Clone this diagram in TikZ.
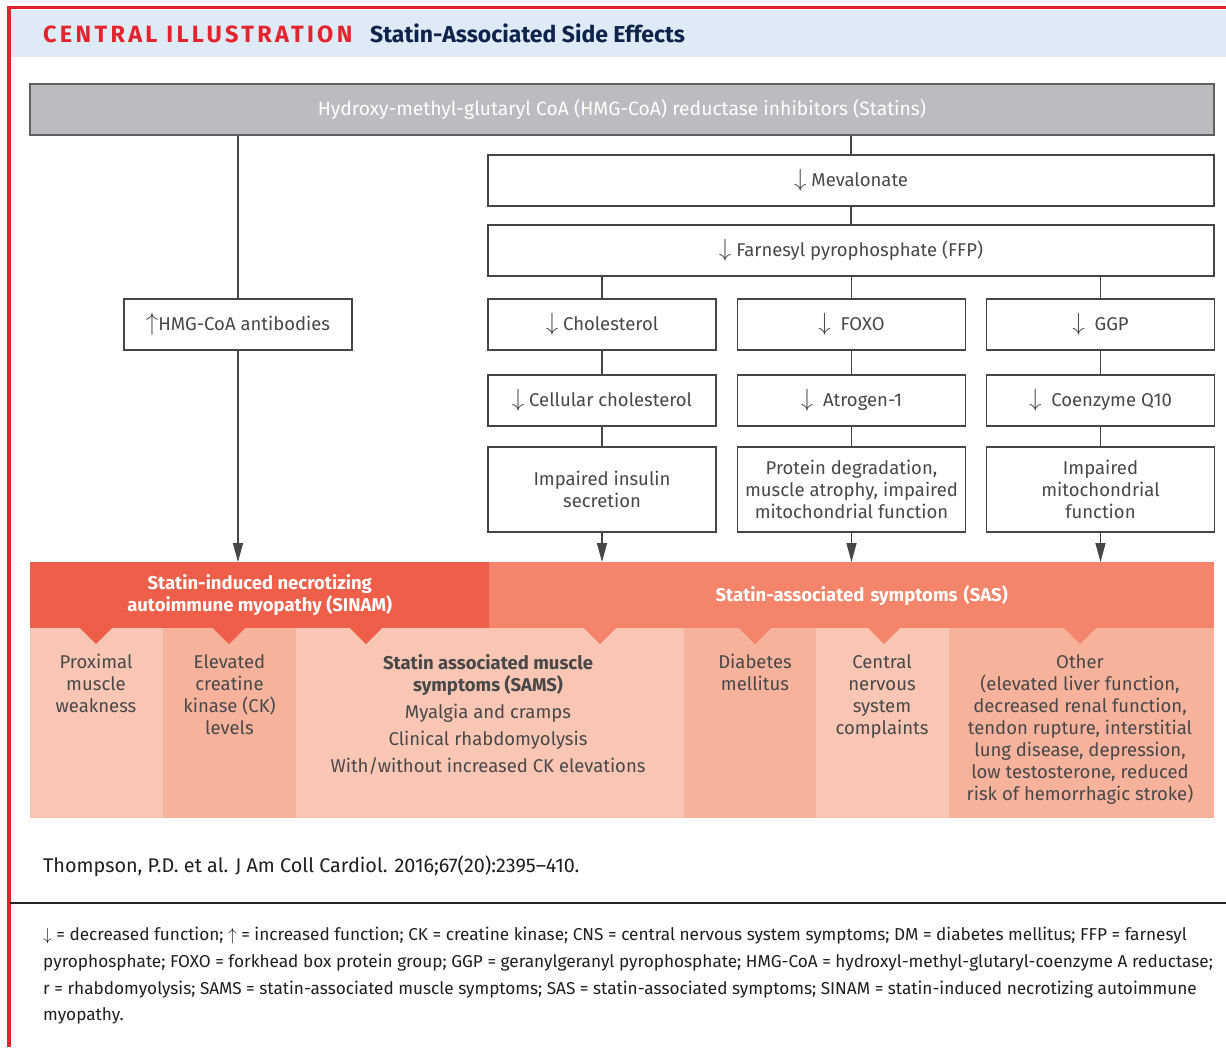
\documentclass[tikz,border=0pt]{standalone}
\usepackage{fontspec}
\setmainfont{Fira Sans}
\usetikzlibrary{arrows.meta}
\definecolor{borderred}{RGB}{227,35,45}
\definecolor{headbg}{RGB}{222,234,246}
\definecolor{navy}{RGB}{12,35,75}
\definecolor{grayfill}{RGB}{187,188,192}
\definecolor{grayline}{RGB}{95,95,95}
\definecolor{boxline}{RGB}{70,70,70}
\definecolor{txtgray}{RGB}{72,72,72}
\definecolor{sinamred}{RGB}{239,94,72}
\definecolor{sasred}{RGB}{244,132,106}
\definecolor{collight}{RGB}{250,198,180}
\definecolor{colmed}{RGB}{247,178,156}
\newcommand{\dnarr}{{\fontsize{25}{22}\selectfont$\downarrow$}}
\newcommand{\uparr}{{\fontsize{25}{22}\selectfont$\uparrow$}}
\tikzset{
  fbox/.style={draw=boxline, line width=1.4pt, fill=white, minimum width=228pt, minimum height=51pt,
    inner sep=0pt, font=\fontsize{18.5}{22}\selectfont, text=txtgray, align=center},
  graybox/.style={draw=grayline, line width=2.4pt, fill=grayfill, minimum width=1184pt, minimum height=51pt,
    inner sep=0pt, font=\fontsize{19.3}{22}\selectfont, text=white},
  link/.style={draw=boxline, line width=1.4pt},
  arr/.style={draw=boxline, line width=1.4pt, -{Triangle[width=10pt,length=19pt]}},
  bar/.style={minimum height=66pt, anchor=north west, inner sep=0pt, text=white,
    font=\fontsize{18.5}{22}\selectfont\bfseries, align=center},
  coltxt/.style={anchor=north, inner sep=0pt, text=txtgray, align=center, font=\fontsize{18.5}{22}\selectfont}
}
\begin{document}
\begin{tikzpicture}[x=1pt,y=-1pt]
\useasboundingbox (0,0) rectangle (1226,1047);
\fill[white] (0,0) rectangle (1226,1047);
% header
\fill[headbg] (10,10) rectangle (1226,57);
\draw[borderred, line width=3.6pt] (9,1047) -- (9,7.5) -- (1226,7.5);
\node[anchor=base west, inner sep=0pt, text=borderred, font=\fontsize{23.5}{24}\selectfont\bfseries\addfontfeatures{LetterSpace=14}] (title1) at (43,42) {CENTRAL ILLUSTRATION};
\node[anchor=base west, inner sep=0pt, text=navy, font=\fontsize{23}{24}\selectfont\bfseries] (title2) at (370,42) {Statin-Associated Side Effects};

% flow boxes
\node[graybox] (statins) at (622,109.5) {Hydroxy-methyl-glutaryl CoA (HMG-CoA) reductase inhibitors (Statins)};
\node[fbox, minimum width=726pt] (meva) at (851,180.5) {\dnarr\ Mevalonate};
\node[fbox, minimum width=726pt] (ffp) at (851,250.5) {\dnarr\ Farnesyl pyrophosphate (FFP)};
\node[fbox] (antib) at (238,324.5) {\uparr HMG-CoA antibodies};
\node[fbox] (chol) at (602,324.5) {\dnarr\ Cholesterol};
\node[fbox] (foxo) at (851.5,324.5) {\dnarr\ \ FOXO};
\node[fbox] (ggp) at (1100.5,324.5) {\dnarr\ \ GGP};
\node[fbox] (cell) at (602,400.5) {\dnarr\ Cellular cholesterol};
\node[fbox] (atro) at (851.5,400.5) {\dnarr\ \ Atrogen-1};
\node[fbox] (coq) at (1100.5,400.5) {\dnarr\ \ Coenzyme Q10};
\node[fbox, minimum height=85pt] (ins) at (602,489.5) {Impaired insulin\\secretion};
\node[fbox, minimum height=85pt] (prot) at (851.5,489.5) {Protein degradation,\\muscle atrophy, impaired\\mitochondrial function};
\node[fbox, minimum height=85pt] (mito) at (1100.5,489.5) {Impaired\\mitochondrial\\function};

% bars
\node[bar, fill=sinamred, minimum width=459pt] (sinam) at (30,562) {Statin-induced necrotizing\\autoimmune myopathy (SINAM)};
\node[bar, fill=sasred, minimum width=725pt, text width=705pt] (sas) at (489,562) {\hspace*{20pt}\raisebox{-4pt}{Statin-associated symptoms (SAS)}};

% connectors
\draw[link] (antib.north |- statins.south) -- (antib.north);
\draw[arr] (antib.south) -- (antib.south |- sinam.north);
\draw[link] (meva.north |- statins.south) -- (meva.north);
\draw[link] (meva.south) -- (ffp.north);
\draw[link] (chol.north |- ffp.south) -- (chol.north);
\draw[link] (foxo.north |- ffp.south) -- (foxo.north);
\draw[link] (ggp.north |- ffp.south) -- (ggp.north);
\draw[link] (chol.south) -- (cell.north);
\draw[link] (foxo.south) -- (atro.north);
\draw[link] (ggp.south) -- (coq.north);
\draw[link] (cell.south) -- (ins.north);
\draw[link] (atro.south) -- (prot.north);
\draw[link] (coq.south) -- (mito.north);
\draw[arr] (ins.south) -- (ins.south |- sas.north);
\draw[arr] (prot.south) -- (prot.south |- sas.north);
\draw[arr] (mito.south) -- (mito.south |- sas.north);

% columns
\fill[collight] (30,628) rectangle (163,818);
\fill[colmed] (163,628) rectangle (296,818);
\fill[collight] (296,628) rectangle (684,818);
\fill[colmed] (684,628) rectangle (816,818);
\fill[collight] (816,628) rectangle (949,818);
\fill[colmed] (949,628) rectangle (1214,818);
\foreach \x/\c in {96/sinamred,229/sinamred,366/sinamred,600/sasred,755/sasred,884/sasred,1080/sasred}
  \fill[\c] (\x-17,627) -- (\x+17,627) -- (\x,644) -- cycle;

\node[coltxt] (c1) at (96,654) {Proximal\\muscle\\weakness};
\node[coltxt] (c2) at (229.5,654) {Elevated\\creatine\\kinase (CK)\\levels};
\node[coltxt] (c3) at (488,654) {\bfseries Statin associated muscle\\\bfseries symptoms (SAMS)\\[5pt]Myalgia and cramps\\[5pt]Clinical rhabdomyolysis\\[5pt]With/without increased CK elevations};
\node[coltxt] (c4) at (755,654) {Diabetes\\mellitus};
\node[coltxt] (c5) at (882,654) {Central\\nervous\\system\\complaints};
\node[coltxt] (c6) at (1080,654) {Other\\(elevated liver function,\\decreased renal function,\\tendon rupture, interstitial\\lung disease, depression,\\low testosterone, reduced\\risk of hemorrhagic stroke)};

% citation and footnote
\node[anchor=base west, inner sep=0pt, text=black!88, font=\fontsize{19.8}{22}\selectfont] (cite) at (43,872) {Thompson, P.D. et al. J Am Coll Cardiol. 2016;67(20):2395--410.};
\coordinate (rulel) at (10,903);
\coordinate (ruler) at (1226,903);
\draw[black!85, line width=1.6pt] (rulel) -- (ruler);
\node[anchor=north west, inner sep=0pt, text=black!88, align=left, font=\fontsize{17.2}{26.7}\selectfont] (foot) at (43,927) {%
$\downarrow$ = decreased function; $\uparrow$ = increased function; CK = creatine kinase; CNS = central nervous system symptoms; DM = diabetes mellitus; FFP = farnesyl\\
pyrophosphate; FOXO = forkhead box protein group; GGP = geranylgeranyl pyrophosphate; HMG-CoA = hydroxyl-methyl-glutaryl-coenzyme A reductase;\\
r = rhabdomyolysis; SAMS = statin-associated muscle symptoms; SAS = statin-associated symptoms; SINAM = statin-induced necrotizing autoimmune\\
myopathy.};
\end{tikzpicture}
\end{document}
